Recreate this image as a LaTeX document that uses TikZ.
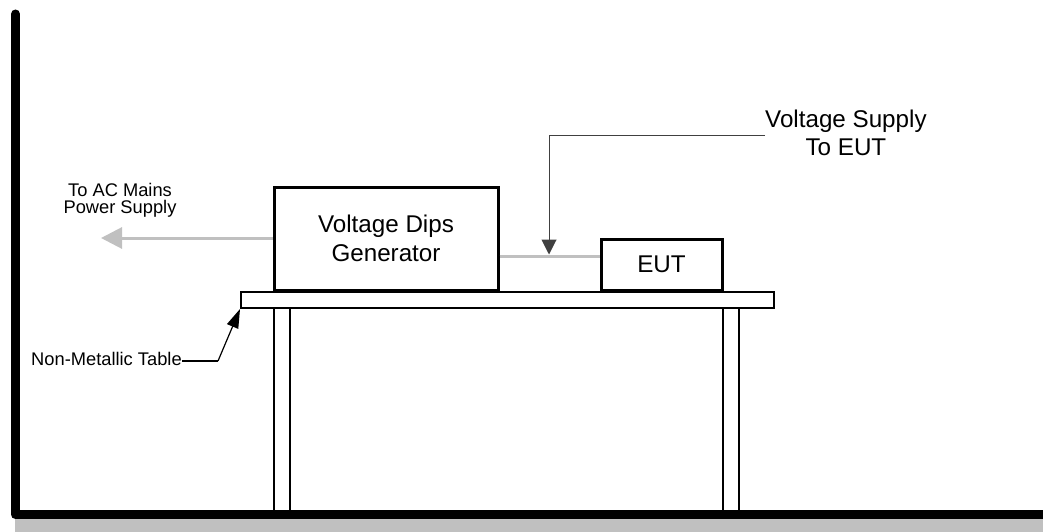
\documentclass[tikz,border=0pt]{standalone}
\usepackage{fontspec}
\setmainfont{Liberation Sans}
\usetikzlibrary{arrows.meta}
\definecolor{cablegray}{HTML}{C0C0C0}
\definecolor{leadgray}{HTML}{404040}
\tikzset{
  box/.style={draw=black, line width=3pt, fill=white, inner sep=0pt, align=center, font=\fontsize{24.2}{29}\selectfont},
  tabline/.style={draw=black, line width=2pt},
  biglabel/.style={inner sep=0pt, align=center, font=\fontsize{24.2}{28}\selectfont},
  smalllabel/.style={inner sep=0pt, align=center, font=\fontsize{18.3}{17}\selectfont},
  cable/.style={draw=cablegray, line width=3pt},
  lead/.style={draw=leadgray, line width=1pt},
}
\begin{document}
\begin{tikzpicture}[x=1pt, y=-1pt]
\useasboundingbox (0,0) rectangle (1043,532);
% floor shadow and wall
\fill[cablegray] (15,519) rectangle (1043,532);
\draw[line width=9pt, line cap=round, line join=round] (15.5,14) -- (15.5,514.5) -- (1050,514.5);
% table
\node[tabline, minimum width=533pt, minimum height=16pt, inner sep=0pt, anchor=north west] (top) at (240,291) {};
\draw[tabline] (274,308) -- (274,510.5);
\draw[tabline] (290,308) -- (290,510.5);
\draw[tabline] (723,308) -- (723,510.5);
\draw[tabline] (739,308) -- (739,510.5);
% boxes
\node[box, minimum width=224pt, minimum height=103pt] (gen) at (386,238.5) {Voltage Dips\\Generator};
\node[box, minimum width=121pt, minimum height=51pt] (eut) at (661.5,264.5) {EUT};
% cable between generator and EUT
\coordinate (cab) at (0,256);
\draw[cable] (gen.east |- cab) -- (eut.west |- cab);
% mains arrow
\node[smalllabel] (mains) at (120,200) {To AC Mains\\Power Supply};
\coordinate (mainsend) at (101,238);
\draw[cable, -{Triangle[length=21pt,width=21pt]}] (gen.west |- mainsend) -- (mainsend);
% voltage supply label
\node[biglabel, anchor=west] (vs) at (765,133) {Voltage Supply\\To EUT};
\coordinate (vsbend) at (549,135);
\coordinate (vstip) at (549,254.5);
\draw[lead] (vs.west |- vsbend) -- (vsbend);
\draw[lead, -{Triangle[length=15pt,width=15pt]}] (vsbend) -- (vstip);
% non-metallic table label
\node[smalllabel, anchor=west] (nm) at (31,359) {Non-Metallic Table};
\coordinate (nmbend) at (218,361);
\draw[line width=1.2pt] (nm.east |- nmbend) -- (nmbend);
\draw[line width=1.2pt, -{Triangle[length=19pt,width=12pt]}] (nmbend) -- (top.south west);
\end{tikzpicture}
\end{document}
